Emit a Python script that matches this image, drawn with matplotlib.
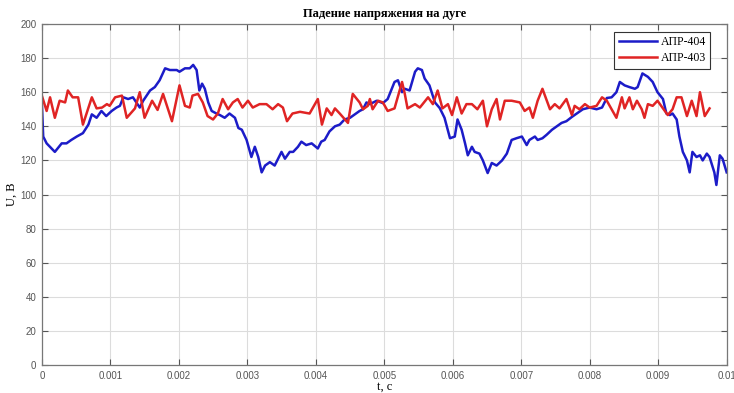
import numpy as np
from matplotlib import pyplot as plt

# АПР-404 (blue), time in ms
t_404 = [0.00, 0.02, 0.07, 0.19, 0.29, 0.36, 0.43, 0.51, 0.60, 0.68, 0.73, 0.80, 0.87, 0.94,
         1.02, 1.09, 1.14, 1.19, 1.26, 1.33, 1.43, 1.48, 1.58, 1.65, 1.72, 1.80, 1.87, 1.97,
         2.01, 2.09, 2.16, 2.21, 2.26, 2.30, 2.34, 2.38, 2.43, 2.48, 2.55, 2.60, 2.67, 2.74,
         2.82, 2.87, 2.92, 2.99, 3.06, 3.11, 3.16, 3.21, 3.26, 3.33, 3.40, 3.50, 3.55, 3.62,
         3.67, 3.74, 3.79, 3.86, 3.94, 4.03, 4.08, 4.13, 4.20, 4.28, 4.35, 4.42, 4.50, 4.57,
         4.64, 4.69, 4.74, 4.79,
         4.89, 4.98, 5.05, 5.15, 5.20, 5.26, 5.30, 5.37, 5.45, 5.49, 5.55, 5.59, 5.66, 5.74,
         5.81, 5.88, 5.96, 6.03, 6.07, 6.13, 6.18, 6.22, 6.28, 6.32, 6.39, 6.44, 6.51, 6.57,
         6.64, 6.72, 6.79, 6.86, 6.93, 7.01, 7.08, 7.12, 7.20, 7.24, 7.31, 7.37, 7.45, 7.52,
         7.59, 7.66, 7.74, 7.81, 7.90, 8.00, 8.10, 8.18, 8.25, 8.32, 8.39, 8.44, 8.51, 8.58,
         8.66, 8.70, 8.77, 8.85, 8.92, 8.99, 9.07, 9.12, 9.17, 9.21, 9.27, 9.31, 9.36, 9.42,
         9.46, 9.50, 9.56, 9.61, 9.65, 9.71, 9.75, 9.82, 9.85, 9.90, 9.94, 10.00]
u_404 = [154, 134, 130, 125, 130, 130, 132, 134, 136, 141, 147, 145, 149, 146,
         149, 151, 152, 157, 156, 157, 151, 155, 161, 163, 167, 174, 173, 173,
         172, 174, 174, 176, 173, 161, 165, 162, 154, 149, 147.5, 146.6, 145, 147.5,
         145, 139, 138, 132, 122, 128, 122, 113, 117, 119, 117, 125, 121, 125,
         125, 128, 131, 129, 130, 127, 131, 132, 137, 140, 141, 144, 145, 147,
         149, 150, 154, 153,
         155, 153.6, 156, 166, 167, 160, 162, 161, 172, 174, 173, 168, 164, 154,
         150.7, 145, 133, 134, 144, 138, 130, 123, 128, 125, 124, 120, 112.6, 118.5,
         117, 120, 124, 132, 133, 134, 129, 132, 134, 132, 133, 135, 138, 140,
         142, 143, 145.5, 147.5, 150, 151, 150, 151, 156.6, 157, 160, 166, 164, 163,
         162, 163, 171, 169, 166, 160, 156, 147.5, 146.6, 147.5, 144, 134, 125, 120,
         113, 125, 122, 123, 120, 124, 122, 113, 105.6, 123, 121, 113]

# АПР-403 (red), time in ms
t_403 = [0.00, 0.07, 0.12, 0.19, 0.26, 0.34, 0.38, 0.45, 0.53, 0.60, 0.73, 0.80, 0.88, 0.95,
         0.99, 1.07, 1.17, 1.24, 1.36, 1.43, 1.50, 1.61, 1.69, 1.77, 1.90, 2.01, 2.09, 2.16,
         2.20, 2.28, 2.35, 2.42, 2.50, 2.57, 2.64, 2.72, 2.79, 2.86, 2.93, 3.01, 3.08, 3.18,
         3.28, 3.37, 3.45, 3.52, 3.58, 3.66, 3.77, 3.91, 4.03, 4.09, 4.16, 4.23, 4.28, 4.35,
         4.47, 4.54, 4.64, 4.69, 4.76,
         4.79, 4.83, 4.91, 4.98, 5.05, 5.15, 5.26, 5.30, 5.34, 5.45, 5.52, 5.64, 5.71, 5.78,
         5.85, 5.93, 5.99, 6.06, 6.13, 6.20, 6.28, 6.36, 6.44, 6.50, 6.57, 6.64, 6.69, 6.76,
         6.86, 6.98, 7.05, 7.12, 7.17, 7.24, 7.31, 7.42, 7.49, 7.56, 7.66, 7.74, 7.78, 7.85,
         7.93, 8.00, 8.10, 8.18, 8.25, 8.32, 8.39, 8.47, 8.51, 8.58, 8.63, 8.69, 8.76, 8.80,
         8.85, 8.92, 8.99, 9.07, 9.14, 9.21, 9.27, 9.34, 9.42, 9.49, 9.56, 9.61, 9.68, 9.75]
u_403 = [158, 149, 157, 145, 155, 154, 161, 157, 157, 141, 157, 150.5, 151, 153,
         152, 157, 158, 145, 150.5, 160, 145, 155, 149.6, 159, 143, 164, 152, 151,
         158, 159, 154, 146, 144, 147.5, 156, 150, 154, 156, 151, 155, 151, 153,
         153, 150, 153, 151, 143, 147.5, 148.5, 147.5, 156, 141, 150.5, 146.6, 150.5, 147.5,
         142, 159, 154, 150, 152,
         156, 150, 155, 154, 149, 150.5, 166, 159, 150.5, 153, 151, 157, 153, 161,
         150.5, 153, 146.6, 157, 147.5, 153, 153, 150, 155, 140, 150, 156, 144, 155,
         155, 154, 149, 151, 145, 155, 162, 150, 153, 150.5, 156, 146.6, 152, 150,
         153, 151, 152, 157, 155, 150, 145, 157, 150.5, 157, 150, 155, 150, 145,
         153, 152, 155, 150.5, 146.6, 150, 157, 157, 146, 155, 146, 160, 146, 150.5]

x_ticks = [0, 0.001, 0.002, 0.003, 0.004, 0.005, 0.006, 0.007, 0.008, 0.009, 0.01]
x_labels = ['0', '0.001', '0.002', '0.003', '0.004', '0.005', '0.006', '0.007', '0.008', '0.009', '0.01']
y_ticks = list(range(0, 201, 20))

serif = ['Liberation Serif', 'DejaVu Serif']
sans = ['Liberation Sans', 'DejaVu Sans']

fig = plt.figure(figsize=(7.34, 3.93), dpi=100)
ax = fig.add_axes([0.057, 0.071, 0.933, 0.868])

ax.plot(np.array(t_404) * 1e-3, u_404, color='#1c1cc8', lw=1.8, label='АПР-404')
ax.plot(np.array(t_403) * 1e-3, u_403, color='#e02424', lw=1.8, label='АПР-403')

ax.set_xlim(0, 0.01)
ax.set_ylim(0, 200)
ax.set_xticks(x_ticks)
ax.set_xticklabels(x_labels)
ax.set_yticks(y_ticks)
ax.grid(True, color='#dcdcdc', lw=0.8)
ax.set_axisbelow(True)
ax.tick_params(direction='in', length=4, width=0.8, colors='#555555', labelsize=7,
               top=True, right=True, pad=4)
for lab in ax.get_xticklabels() + ax.get_yticklabels():
    lab.set_family(sans)
    lab.set_color('#555555')
for s in ax.spines.values():
    s.set_color('#777777')
    s.set_linewidth(0.9)

ax.set_title('Падение напряжения на дуге', family=serif, fontsize=9, fontweight='bold', pad=5)
ax.set_ylabel('U, В', family=serif, fontsize=9, labelpad=2)
ax.set_xlabel('t, c', family=serif, fontsize=9, labelpad=0)

leg = ax.legend(loc='upper right', prop={'family': serif, 'size': 8.5}, fancybox=False,
                framealpha=1, edgecolor='#333333', handlelength=3.2, borderpad=0.4,
                labelspacing=0.35, handletextpad=0.3, bbox_to_anchor=(0.985, 0.995))
leg.get_frame().set_linewidth(0.8)

fig.savefig('out.png', dpi=100)
